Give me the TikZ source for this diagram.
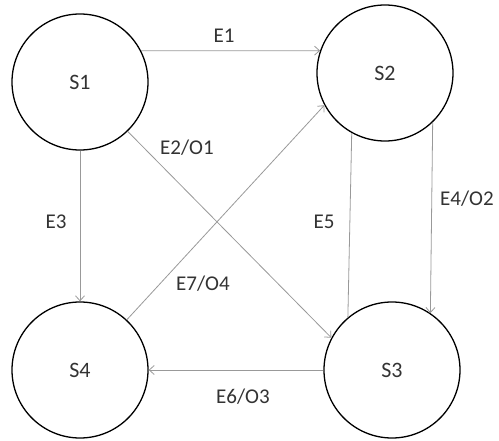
\documentclass[tikz,border=0pt]{standalone}
\usepackage{fontspec}
\setmainfont{Carlito}
\usepackage{tikz}
\usetikzlibrary{arrows.meta}

\begin{document}
\begin{tikzpicture}[x=1pt,y=-1pt,
	state/.style = {draw, circle, line width=1.3pt, minimum size=136pt, inner sep=0pt, text=black!80, font=\fontsize{22}{26}\selectfont},
	trans/.style = {draw=black!40, line width=0.8pt, -{Straight Barb[length=5pt,width=9pt]}},
	lbl/.style = {text=black!80, font=\fontsize{21}{25}\selectfont}]
\useasboundingbox (0,0) rectangle (499,441);
\node[state] (S1) at (80,82) {S1};
\node[state] (S2) at (385,73) {S2};
\node[state] (S3) at (392,370) {S3};
\node[state] (S4) at (80,370) {S4};
\draw[trans] (S1.27) -- (S2.161);
\draw[trans] (S1.-46) -- (S3.152);
\draw[trans] (S1.south) -- (S4.north);
\draw[trans] (S4.47) -- (S2.208);
\draw[trans] (S2.-46) -- (S3.56);
\draw[draw=black!40, line width=0.8pt] (S3.130) -- (S2.241);
\draw[trans] (S3.west) -- (S4.east);
\node[lbl] (l1) at (224,36) {E1};
\node[lbl] (l2) at (187,148) {E2/O1};
\node[lbl] (l3) at (56,222) {E3};
\node[lbl] (l4) at (467,199) {E4/O2};
\node[lbl] (l5) at (324,222) {E5};
\node[lbl] (l6) at (243,397) {E6/O3};
\node[lbl] (l7) at (203,284) {E7/O4};
\end{tikzpicture}
\end{document}
